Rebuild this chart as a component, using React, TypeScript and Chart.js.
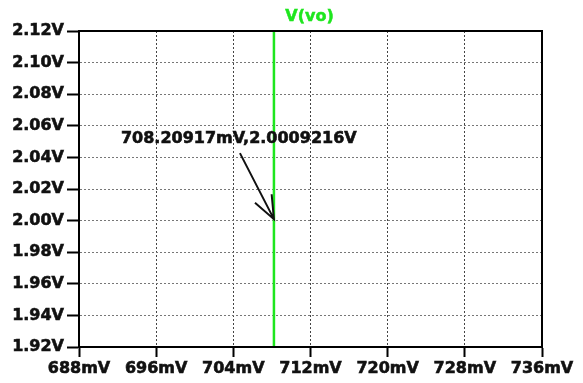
import React, { useEffect, useRef } from "react";
import { Chart, registerables } from "chart.js";

Chart.register(...registerables);

// ---- data ----
const seriesName = "V(vo)";
const sweepMv = [708.20917, 708.20917, 708.20917];
const voVolts = [1.9, 2.0009216, 2.14];
const xTicksMv = [688, 696, 704, 712, 720, 728, 736];
const yTicksV = [1.92, 1.94, 1.96, 1.98, 2.0, 2.02, 2.04, 2.06, 2.08, 2.1, 2.12];
const cursorX = [708.20917];
const cursorY = [2.0009216];
const cursorLabel = ["708.20917mV,2.0009216V"];

const FONT = "'DejaVu Sans', Verdana, sans-serif";
const GREEN = "#1ee61e";

const overlayPlugin = {
  id: "overlay",
  afterDraw(chart: any) {
    const { ctx, chartArea, scales } = chart;
    ctx.save();
    // frame
    ctx.strokeStyle = "#000";
    ctx.lineWidth = 2;
    ctx.strokeRect(chartArea.left, chartArea.top, chartArea.right - chartArea.left, chartArea.bottom - chartArea.top);
    // title
    ctx.fillStyle = GREEN;
    ctx.strokeStyle = GREEN;
    ctx.lineWidth = 0.5;
    ctx.font = `bold 16px ${FONT}`;
    ctx.textAlign = "center";
    ctx.textBaseline = "middle";
    const titleX = (chartArea.left + chartArea.right) / 2 - 1;
    ctx.fillText(seriesName, titleX, 17);
    ctx.strokeText(seriesName, titleX, 17);
    // cursor annotation
    const tx = scales.x.getPixelForValue(cursorX[0]);
    const ty = scales.y.getPixelForValue(cursorY[0]);
    ctx.fillStyle = "#111";
    ctx.strokeStyle = "#111";
    ctx.lineWidth = 0.6;
    ctx.textAlign = "left";
    ctx.fillText(cursorLabel[0], tx - 153, ty - 80);
    ctx.strokeText(cursorLabel[0], tx - 153, ty - 80);
    const sx = tx - 34;
    const sy = ty - 66;
    ctx.lineWidth = 2;
    ctx.beginPath();
    ctx.moveTo(sx, sy);
    ctx.lineTo(tx, ty);
    const ang = Math.atan2(sy - ty, sx - tx);
    const len = 25;
    const spread = (22 * Math.PI) / 180;
    ctx.moveTo(tx + len * Math.cos(ang - spread), ty + len * Math.sin(ang - spread));
    ctx.lineTo(tx, ty);
    ctx.lineTo(tx + len * Math.cos(ang + spread), ty + len * Math.sin(ang + spread));
    ctx.stroke();
    ctx.restore();
  },
};

export default function App() {
  const ref = useRef<HTMLCanvasElement>(null);
  useEffect(() => {
    document.body.style.margin = "0";
    const chart = new Chart(ref.current!, {
      type: "line",
      data: {
        datasets: [
          {
            label: seriesName,
            data: sweepMv.map((x, i) => ({ x, y: voVolts[i] })),
            borderColor: GREEN,
            borderWidth: 2.5,
            pointRadius: 0,
            tension: 0,
          },
        ],
      },
      options: {
        animation: false,
        responsive: false,
        layout: { padding: { left: 0, top: 31, right: 41, bottom: 0 } },
        plugins: { legend: { display: false }, tooltip: { enabled: false }, title: { display: false } },
        scales: {
          x: {
            type: "linear",
            min: 688,
            max: 736,
            afterBuildTicks: (s: any) => {
              s.ticks = xTicksMv.map((v) => ({ value: v }));
            },
            afterFit: (s: any) => {
              s.height = 36;
            },
            ticks: {
              color: "#111",
              textStrokeColor: "#111",
              textStrokeWidth: 0.6,
              font: { family: FONT, size: 16, weight: "bold" },
              padding: 2,
              maxRotation: 0,
              autoSkip: false,
              callback: (v: any) => `${v}mV`,
            },
            grid: {
              color: "#444",
              lineWidth: 1,
              tickLength: 10,
              tickColor: "#000",
              tickWidth: 2,
              tickBorderDash: [1, 0],
            } as any,
            border: { display: true, color: "#000", width: 2, dash: [2, 2] },
          },
          y: {
            type: "linear",
            min: 1.92,
            max: 2.12,
            afterBuildTicks: (s: any) => {
              s.ticks = yTicksV.map((v) => ({ value: v }));
            },
            afterFit: (s: any) => {
              s.width = 79;
            },
            ticks: {
              color: "#111",
              textStrokeColor: "#111",
              textStrokeWidth: 0.6,
              font: { family: FONT, size: 16, weight: "bold" },
              padding: 3,
              autoSkip: false,
              callback: (v: any) => `${Number(v).toFixed(2)}V`,
            },
            grid: {
              color: "#777",
              lineWidth: 1,
              tickLength: 12,
              tickColor: "#000",
              tickWidth: 2,
              tickBorderDash: [1, 0],
            } as any,
            border: { display: true, color: "#000", width: 2, dash: [2, 2] },
          },
        },
      },
      plugins: [overlayPlugin],
    } as any);
    return () => chart.destroy();
  }, []);
  return (
    <div style={{ position: "fixed", left: 0, top: 0, width: 583, height: 383, background: "#fff" }}>
      <canvas ref={ref} width={583} height={383} />
    </div>
  );
}
